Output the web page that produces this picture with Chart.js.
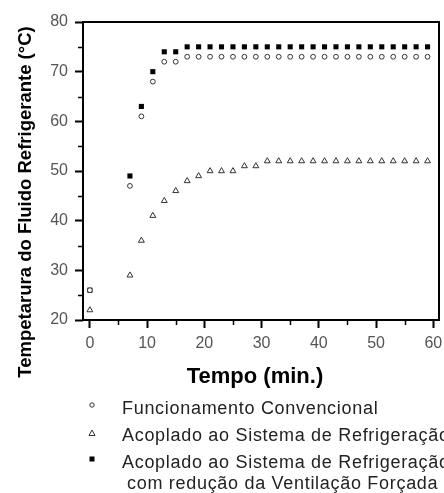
<!DOCTYPE html>
<html>
<head>
<meta charset="utf-8">
<script src="https://cdn.jsdelivr.net/npm/chart.js@4.4.1/dist/chart.umd.min.js"></script>
<style>
  body { margin: 0; background: #fff; }
  #wrap { position: relative; width: 444px; height: 493px; overflow: hidden; }
  .leg { position: absolute; left: 122px; font: 18px "Liberation Sans", Arial, sans-serif; letter-spacing: 0.7px; color: #222; line-height: 18px; white-space: nowrap; }
  .mk { position: absolute; left: 86px; width: 12px; height: 12px; }
</style>
</head>
<body>
<div id="wrap">
  <canvas id="chart" width="444" height="493"></canvas>
  <svg class="mk" style="top:399px" viewBox="0 0 12 12"><circle cx="6" cy="6" r="2.2" fill="#fff" stroke="#333" stroke-width="1"/></svg>
  <div class="leg" style="top:399px">Funcionamento Convencional</div>
  <svg class="mk" style="top:427px" viewBox="0 0 12 12"><polygon points="6,3 9,8.5 3,8.5" fill="#fff" stroke="#333" stroke-width="1"/></svg>
  <div class="leg" style="top:426px">Acoplado ao Sistema de Refrigeração</div>
  <svg class="mk" style="top:453px" viewBox="0 0 12 12"><rect x="3.5" y="3.5" width="5" height="5" fill="#000"/></svg>
  <div class="leg" style="top:453px">Acoplado ao Sistema de Refrigeração</div>
  <div class="leg" style="top:474px;left:127px">com redução da Ventilação Forçada</div>
</div>
<script>
// tempo (min.)
const times = [0, 7, 9, 11, 13, 15, 17, 19, 21, 23, 25, 27, 29, 31, 33, 35, 37, 39, 41, 43, 45, 47, 49, 51, 53, 55, 57, 59];
// temperatura (°C)
const convencional = [26, 47, 61, 68, 72, 72, 73, 73, 73, 73, 73, 73, 73, 73, 73, 73, 73, 73, 73, 73, 73, 73, 73, 73, 73, 73, 73, 73];
const acoplado = [22, 29, 36, 41, 44, 46, 48, 49, 50, 50, 50, 51, 51, 52, 52, 52, 52, 52, 52, 52, 52, 52, 52, 52, 52, 52, 52, 52];
const acopladoReducao = [26, 49, 63, 70, 74, 74, 75, 75, 75, 75, 75, 75, 75, 75, 75, 75, 75, 75, 75, 75, 75, 75, 75, 75, 75, 75, 75, 75];

const xTicks = [0, 10, 20, 30, 40, 50, 60];
const xMinor = [5, 15, 25, 35, 45, 55];
const yTicks = [20, 30, 40, 50, 60, 70, 80];
const yMinor = [25, 35, 45, 55, 65, 75];

const FONT = '"Liberation Sans", Arial, sans-serif';

function pts(ys) {
  return times.map((t, i) => ({ x: t, y: ys[i] }));
}

// frame, minor ticks and axis titles
const framePlugin = {
  id: 'frame',
  afterDraw(chart) {
    const { ctx, chartArea: a } = chart;
    const xs = chart.scales.x, ys = chart.scales.y;
    ctx.save();
    ctx.strokeStyle = '#000';
    ctx.lineWidth = 2;
    ctx.strokeRect(a.left, a.top, a.right - a.left, a.bottom - a.top);

    ctx.lineWidth = 1.5;
    ctx.beginPath();
    xMinor.forEach(v => {
      const px = Math.round(xs.getPixelForValue(v)) + 0.5;
      ctx.moveTo(px, a.bottom);
      ctx.lineTo(px, a.bottom + 5);
    });
    yMinor.forEach(v => {
      const py = Math.round(ys.getPixelForValue(v)) + 0.5;
      ctx.moveTo(a.left, py);
      ctx.lineTo(a.left - 5, py);
    });
    ctx.stroke();

    ctx.fillStyle = '#000';
    ctx.font = 'bold 22px ' + FONT;
    ctx.textAlign = 'center';
    ctx.textBaseline = 'alphabetic';
    ctx.fillText('Tempo (min.)', 255, 383);

    ctx.translate(31, 202);
    ctx.rotate(-Math.PI / 2);
    ctx.font = 'bold 18.5px ' + FONT;
    ctx.fillText('Tempetarura do Fluido Refrigerante (°C)', 0, 0);
    ctx.restore();
  }
};

new Chart(document.getElementById('chart'), {
  type: 'scatter',
  data: {
    datasets: [
      {
        label: 'Funcionamento Convencional',
        data: pts(convencional),
        pointStyle: 'circle',
        pointRadius: 2.4,
        backgroundColor: '#fff',
        borderColor: '#333',
        borderWidth: 1
      },
      {
        label: 'Acoplado ao Sistema de Refrigeração com redução da Ventilação Forçada',
        data: pts(acopladoReducao),
        pointStyle: 'rect',
        pointRadius: 3.6,
        backgroundColor: '#000',
        borderColor: '#000',
        borderWidth: 0
      },
      {
        label: 'Acoplado ao Sistema de Refrigeração',
        data: pts(acoplado),
        pointStyle: 'triangle',
        pointRadius: 3.4,
        backgroundColor: '#fff',
        borderColor: '#333',
        borderWidth: 1
      }
    ]
  },
  options: {
    responsive: false,
    animation: false,
    devicePixelRatio: 1,
    layout: { padding: { left: 0, top: 22, right: 5, bottom: 0 } },
    plugins: { legend: { display: false }, tooltip: { enabled: false } },
    scales: {
      x: {
        type: 'linear',
        min: -1.2,
        max: 61,
        afterBuildTicks: s => { s.ticks = xTicks.map(v => ({ value: v })); },
        afterFit: s => { s.height = 173; s.paddingLeft = 0; s.paddingRight = 0; },
        border: { display: false },
        grid: { drawOnChartArea: false, color: '#000', tickLength: 8, tickWidth: 2 },
        ticks: { color: '#555', padding: 6, maxRotation: 0, autoSkip: false, font: { family: FONT, size: 16 } }
      },
      y: {
        min: 20,
        max: 80,
        afterBuildTicks: s => { s.ticks = yTicks.map(v => ({ value: v })); },
        afterFit: s => { s.width = 83; s.paddingTop = 0; s.paddingBottom = 0; },
        border: { display: false },
        grid: { drawOnChartArea: false, color: '#000', tickLength: 8, tickWidth: 2 },
        ticks: { color: '#555', padding: 7, autoSkip: false, font: { family: FONT, size: 16 } }
      }
    }
  },
  plugins: [framePlugin]
});
</script>
</body>
</html>
